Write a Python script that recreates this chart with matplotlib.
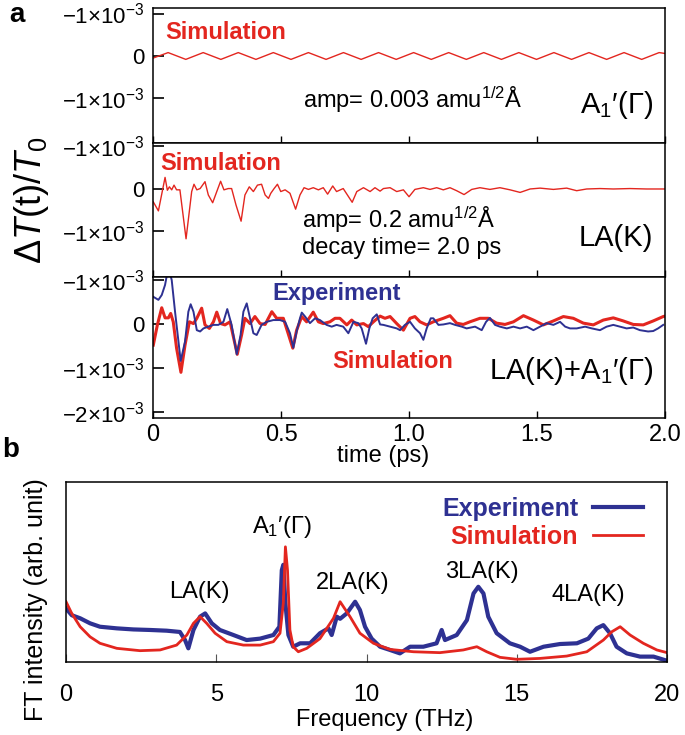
import matplotlib
matplotlib.use('Agg')
from matplotlib import pyplot as plt

plt.rcParams['font.family'] = ['Liberation Sans', 'DejaVu Sans']
plt.rcParams['mathtext.fontset'] = 'custom'
plt.rcParams['mathtext.rm'] = 'Liberation Sans'
plt.rcParams['mathtext.it'] = 'Liberation Sans:italic'
plt.rcParams['mathtext.bf'] = 'Liberation Sans:bold'

RED = '#e3261f'
BLUE = '#2e3192'

# ---- panel a data: time (ps) and dT/T0 in units of 1e-3 (plotted up = as drawn) ----
t_a1 = [0.0, 0.059, 0.128, 0.196, 0.265, 0.333, 0.402, 0.470, 0.539, 0.607,
        0.676, 0.744, 0.813, 0.881, 0.950, 1.018, 1.087, 1.155, 1.224, 1.292,
        1.361, 1.429, 1.498, 1.566, 1.635, 1.703, 1.772, 1.840, 1.909, 1.977, 2.0]
v_a1 = [-0.05, 0.08, -0.08, 0.08, -0.08, 0.08, -0.08, 0.08, -0.08, 0.08,
        -0.08, 0.08, -0.08, 0.08, -0.08, 0.08, -0.08, 0.08, -0.08, 0.08,
        -0.08, 0.08, -0.08, 0.08, -0.08, 0.08, -0.08, 0.08, -0.08, 0.08, 0.06]

t_la = [0.001, 0.021, 0.047, 0.056, 0.064, 0.073, 0.082, 0.092, 0.105, 0.129,
        0.151, 0.160, 0.171, 0.184, 0.203, 0.216, 0.233, 0.249, 0.264, 0.277,
        0.294, 0.307, 0.324, 0.344, 0.359, 0.376, 0.392, 0.408, 0.424, 0.438,
        0.451, 0.460, 0.473, 0.486, 0.499, 0.516, 0.535, 0.557, 0.574, 0.590,
        0.607, 0.626, 0.646, 0.665, 0.682, 0.702, 0.717, 0.743, 0.778, 0.796,
        0.822, 0.848, 0.867, 0.887, 0.900, 0.926, 0.952, 0.978, 1.000, 1.023,
        1.056, 1.082, 1.108, 1.134, 1.160, 1.186, 1.215, 1.245, 1.277, 1.316,
        1.355, 1.395, 1.434, 1.473, 1.512, 1.564, 1.616, 1.655, 1.694, 1.746,
        1.798, 1.863, 1.928, 2.0]
v_la = [-0.31, -0.52, 0.26, -0.04, 0.04, -0.03, 0.08, -0.03, -0.03, -1.17,
        -0.07, 0.10, -0.03, 0.00, 0.16, -0.15, -0.33, -0.07, 0.17, -0.03,
        0.00, 0.00, -0.38, -0.76, -0.15, 0.04, -0.07, 0.08, 0.10, -0.15,
        -0.23, -0.11, 0.00, 0.10, -0.07, -0.03, -0.11, -0.48, -0.15, 0.02,
        -0.02, 0.02, -0.03, 0.02, -0.13, 0.06, -0.07, 0.00, -0.32, -0.07,
        0.02, -0.07, 0.02, -0.06, 0.00, 0.02, -0.07, -0.03, -0.19, -0.02,
        0.02, -0.02, 0.02, -0.03, 0.02, -0.05, -0.14, -0.02, 0.02, -0.02,
        0.02, -0.03, -0.09, -0.01, 0.01, -0.02, 0.01, -0.05, -0.01, 0.00,
        -0.01, 0.00, -0.01, -0.01]

t_sim = [0.001, 0.017, 0.034, 0.047, 0.060, 0.069, 0.079, 0.092, 0.109, 0.125,
         0.142, 0.158, 0.171, 0.190, 0.203, 0.220, 0.236, 0.249, 0.264, 0.281,
         0.301, 0.329, 0.346, 0.359, 0.379, 0.398, 0.418, 0.438, 0.464, 0.483,
         0.509, 0.546, 0.561, 0.581, 0.600, 0.626, 0.646, 0.665, 0.691, 0.711,
         0.730, 0.757, 0.776, 0.796, 0.822, 0.841, 0.861, 0.887, 0.906, 0.926,
         0.952, 0.978, 1.004, 1.023, 1.043, 1.069, 1.095, 1.134, 1.160, 1.186,
         1.212, 1.238, 1.277, 1.310, 1.342, 1.375, 1.408, 1.447, 1.486, 1.525,
         1.564, 1.603, 1.642, 1.681, 1.720, 1.759, 1.798, 1.837, 1.876, 1.915,
         1.954, 1.993, 2.0]
v_sim = [-0.48, -0.02, 0.37, 0.14, 0.14, 0.24, 0.05, -0.55, -1.10, -0.48,
         0.05, 0.01, 0.13, 0.36, -0.02, -0.10, 0.05, 0.27, 0.01, -0.02,
         0.05, -0.69, -0.25, 0.13, 0.01, 0.17, 0.01, -0.01, 0.28, 0.13,
         0.13, -0.55, -0.14, 0.17, 0.05, 0.27, 0.05, 0.01, 0.05, 0.13,
         0.13, -0.02, 0.09, -0.02, 0.01, -0.06, 0.05, 0.18, 0.13, 0.17,
         0.01, -0.14, 0.13, 0.17, 0.05, -0.02, 0.05, 0.13, 0.19, 0.02,
         -0.01, 0.05, 0.13, 0.13, 0.02, -0.01, 0.05, 0.19, 0.09, -0.02,
         0.07, 0.17, 0.13, 0.02, -0.02, 0.09, 0.14, 0.07, -0.01, -0.02,
         0.07, 0.17, 0.18]

t_exp = [0.001, 0.021, 0.034, 0.047, 0.060, 0.073, 0.086, 0.108, 0.125, 0.138,
         0.147, 0.158, 0.171, 0.184, 0.197, 0.216, 0.236, 0.255, 0.275, 0.290,
         0.307, 0.327, 0.342, 0.353, 0.366, 0.379, 0.392, 0.405, 0.424, 0.444,
         0.470, 0.496, 0.516, 0.535, 0.548, 0.561, 0.574, 0.581, 0.594, 0.613,
         0.633, 0.652, 0.678, 0.698, 0.717, 0.743, 0.763, 0.783, 0.802, 0.815,
         0.832, 0.845, 0.858, 0.874, 0.887, 0.900, 0.926, 0.952, 0.965, 0.984,
         1.004, 1.023, 1.043, 1.056, 1.069, 1.085, 1.095, 1.115, 1.134, 1.160,
         1.180, 1.206, 1.225, 1.258, 1.284, 1.301, 1.316, 1.336, 1.355, 1.382,
         1.408, 1.434, 1.460, 1.486, 1.512, 1.538, 1.564, 1.590, 1.610, 1.629,
         1.655, 1.688, 1.714, 1.746, 1.772, 1.798, 1.824, 1.850, 1.876, 1.902,
         1.934, 1.954, 1.973, 1.993]
v_exp = [0.62, 0.55, 0.66, 0.89, 1.30, 1.00, 0.28, -0.84, -0.40, 0.28,
         0.45, 0.28, -0.14, -0.17, -0.10, -0.06, -0.02, -0.02, 0.05, 0.34,
         -0.02, -0.69, -0.25, 0.28, 0.47, 0.13, -0.21, -0.25, -0.02, 0.05,
         0.09, 0.09, 0.05, -0.21, -0.54, -0.17, 0.13, 0.26, 0.17, 0.02,
         0.13, 0.09, -0.02, -0.06, -0.02, -0.06, -0.21, 0.05, 0.02, -0.10,
         -0.45, -0.10, 0.13, 0.22, -0.01, -0.02, -0.06, -0.10, -0.14, -0.02,
         0.05, -0.10, -0.21, -0.36, -0.10, 0.13, 0.13, -0.02, -0.01, 0.02,
         -0.02, -0.06, -0.10, -0.06, -0.14, 0.05, 0.14, -0.02, -0.06, -0.10,
         -0.06, -0.10, -0.06, -0.14, -0.06, 0.02, -0.02, 0.05, -0.06, -0.10,
         -0.10, -0.06, -0.10, -0.14, -0.06, -0.02, -0.06, -0.10, -0.08, -0.14,
         -0.17, -0.16, -0.10, -0.02]

time_ticks = [0, 0.5, 1.0, 1.5, 2.0]
time_ticklabels = ['0', '0.5', '1.0', '1.5', '2.0']

# ---- panel b data: frequency (THz) and FT intensity (arb. unit) ----
f_exp = [0.0, 0.19, 0.47, 0.80, 1.13, 1.69, 2.24, 2.80, 3.35, 3.79, 3.96, 4.07,
         4.24, 4.46, 4.63, 4.85, 5.12, 5.57, 6.01, 6.46, 6.90, 7.10, 7.18, 7.23,
         7.30, 7.40, 7.56, 7.79, 8.12, 8.45, 8.73, 8.84, 9.01, 9.12, 9.34, 9.62,
         9.78, 9.95, 10.17, 10.45, 10.78, 11.11, 11.45, 11.89, 12.33, 12.50, 12.61,
         13.00, 13.34, 13.56, 13.72, 13.89, 14.05, 14.33, 14.77, 15.11, 15.44,
         15.89, 16.44, 17.00, 17.38, 17.66, 17.88, 18.10, 18.32, 18.66, 19.10,
         19.55, 19.94]
i_exp = [0.298, 0.260, 0.243, 0.215, 0.196, 0.187, 0.181, 0.178, 0.174, 0.167,
         0.122, 0.076, 0.178, 0.252, 0.270, 0.215, 0.178, 0.150, 0.122, 0.130,
         0.150, 0.196, 0.510, 0.540, 0.326, 0.150, 0.085, 0.104, 0.104, 0.160,
         0.187, 0.150, 0.252, 0.240, 0.270, 0.335, 0.289, 0.196, 0.130, 0.085,
         0.067, 0.048, 0.085, 0.085, 0.104, 0.178, 0.122, 0.150, 0.233, 0.381,
         0.418, 0.381, 0.252, 0.160, 0.104, 0.085, 0.057, 0.085, 0.100, 0.104,
         0.130, 0.187, 0.205, 0.160, 0.085, 0.048, 0.030, 0.030, 0.010]

f_sim = [0.0, 0.19, 0.47, 0.80, 1.13, 1.69, 2.46, 3.13, 3.68, 4.02, 4.24, 4.46,
         4.68, 4.96, 5.35, 5.90, 6.46, 6.90, 7.12, 7.23, 7.30, 7.37, 7.45, 7.56,
         7.73, 8.01, 8.45, 8.90, 9.12, 9.45, 9.78, 10.23, 10.78, 11.56, 12.44,
         13.22, 13.67, 14.00, 14.44, 15.00, 15.77, 16.66, 17.33, 17.88, 18.16,
         18.44, 18.77, 19.21, 19.66, 20.0]
i_sim = [0.335, 0.270, 0.196, 0.140, 0.104, 0.076, 0.063, 0.067, 0.094, 0.150,
         0.215, 0.252, 0.215, 0.160, 0.113, 0.094, 0.094, 0.113, 0.160, 0.326,
         0.640, 0.510, 0.178, 0.085, 0.057, 0.076, 0.130, 0.243, 0.335, 0.252,
         0.160, 0.104, 0.070, 0.057, 0.052, 0.067, 0.085, 0.057, 0.026, 0.015,
         0.020, 0.033, 0.057, 0.122, 0.168, 0.196, 0.150, 0.104, 0.067, 0.052]

peak_labels = ['LA(K)', "A$_1$\u2032(\u0393)", '2LA(K)', '3LA(K)', '4LA(K)']
peak_pos = [4.43, 7.19, 9.55, 13.85, 17.37]
peak_height = [0.39, 0.75, 0.44, 0.50, 0.37]

fig = plt.figure(figsize=(6.85, 7.35), dpi=100)

ax1 = fig.add_axes([0.2234, 0.8054, 0.7474, 0.1837])
ax2 = fig.add_axes([0.2234, 0.6231, 0.7474, 0.1823])
ax3 = fig.add_axes([0.2234, 0.4313, 0.7474, 0.1918])
axb = fig.add_axes([0.0964, 0.0993, 0.8774, 0.2449])

ax1.plot(t_a1, v_a1, color=RED, lw=1.0)
ax2.plot(t_la, v_la, color=RED, lw=1.0)
ax3.plot(t_sim, v_sim, color=RED, lw=2.2)
ax3.plot(t_exp, v_exp, color=BLUE, lw=1.4)

m1 = r'$-1{\times}10^{-3}$'
m2 = r'$-2{\times}10^{-3}$'
ax1.set_ylim(-2.05, 1.13)
ax2.set_ylim(-2.06, 1.06)
ax3.set_ylim(-2.14, 1.07)
for ax in (ax1, ax2):
    ax.set_yticks([1, 0, -1])
    ax.set_yticklabels([m1, '0', m1])
ax3.set_yticks([1, 0, -1, -2])
ax3.set_yticklabels([m1, '0', m1, m2])

for ax in (ax1, ax2, ax3):
    ax.set_xlim(0, 2.0)
    ax.set_xticks(time_ticks)
    ax.tick_params(axis='y', direction='in', length=8, width=1.2, labelsize=16, pad=6)
    ax.tick_params(axis='x', direction='in', length=5, width=1.0, labelsize=17, pad=4)
    for s in ax.spines.values():
        s.set_linewidth(1.1)
ax1.set_xticklabels([])
ax2.set_xticklabels([])
ax3.set_xticklabels(time_ticklabels)
ax3.set_xlabel('time (ps)', fontsize=17)
ax3.xaxis.set_label_coords(0.45, -0.19)

ax1.text(0.023, 0.815, 'Simulation', transform=ax1.transAxes, color=RED,
         fontsize=17, fontweight='bold', va='center')
ax1.text(0.293, 0.32, 'amp= 0.003 amu$^{1/2}$\u00c5', transform=ax1.transAxes,
         fontsize=17, va='center')
ax1.text(0.977, 0.28, "A$_1$\u2032(\u0393)", transform=ax1.transAxes,
         fontsize=21, ha='right', va='center')

ax2.text(0.014, 0.85, 'Simulation', transform=ax2.transAxes, color=RED,
         fontsize=17, fontweight='bold', va='center')
ax2.text(0.291, 0.425, 'amp= 0.2 amu$^{1/2}$\u00c5', transform=ax2.transAxes,
         fontsize=17, va='center')
ax2.text(0.291, 0.22, 'decay time= 2.0 ps', transform=ax2.transAxes,
         fontsize=17, va='center')
ax2.text(0.977, 0.29, 'LA(K)', transform=ax2.transAxes,
         fontsize=21, ha='right', va='center')

ax3.text(0.234, 0.88, 'Experiment', transform=ax3.transAxes, color=BLUE,
         fontsize=17, fontweight='bold', va='center')
ax3.text(0.35, 0.40, 'Simulation', transform=ax3.transAxes, color=RED,
         fontsize=17, fontweight='bold', va='center')
ax3.text(0.977, 0.33, "LA(K)+A$_1$\u2032(\u0393)", transform=ax3.transAxes,
         fontsize=21, ha='right', va='center')

fig.text(0.046, 1 - 200 / 735, r'$\Delta T\mathrm{(t)}/T_\mathrm{0}$',
         rotation=90, fontsize=26, ha='center', va='center')

# panel b
axb.plot(f_exp, i_exp, color=BLUE, lw=3.0, label='Experiment')
axb.plot(f_sim, i_sim, color=RED, lw=2.0, label='Simulation')
axb.set_xlim(0, 20)
axb.set_ylim(0, 1.0)
axb.set_xticks([0, 5, 10, 15, 20])
axb.set_yticks([])
axb.tick_params(axis='x', direction='in', length=6, width=0.8, color='#555555',
                labelsize=17, pad=16)
for s in axb.spines.values():
    s.set_linewidth(1.1)
for lab, x, y in zip(peak_labels, peak_pos, peak_height):
    axb.text(x, y, lab, fontsize=17, ha='center', va='center')
axb.set_xlabel('Frequency (THz)', fontsize=17)
axb.xaxis.set_label_coords(0.53, -0.26)
fig.text(0.053, 1 - 600 / 735, 'FT intensity (arb. unit)', rotation=90,
         fontsize=18, ha='center', va='center')
axb.legend(loc='upper right', bbox_to_anchor=(0.985, 1.0), frameon=False,
           markerfirst=False, labelcolor='linecolor', handlelength=2.0,
           handletextpad=0.6, labelspacing=0.15, borderaxespad=0.2,
           prop={'size': 18, 'weight': 'bold'})

fig.text(0.014, 0.979, 'a', fontsize=20, fontweight='bold', va='center')
fig.text(0.003, 1 - 450 / 735, 'b', fontsize=20, fontweight='bold', va='center')

plt.savefig('out.png', dpi=100)
